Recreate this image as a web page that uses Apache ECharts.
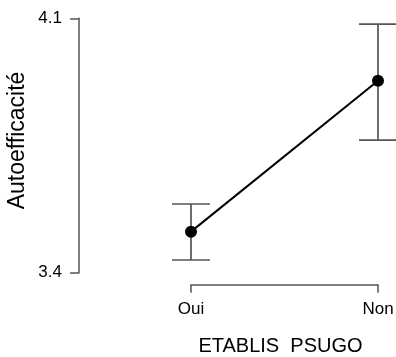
<!DOCTYPE html>
<html><head><meta charset="utf-8">
<script src="https://cdn.jsdelivr.net/npm/echarts@6/dist/echarts.min.js"></script>
<style>html,body{margin:0;padding:0;background:#fff}#c{width:396px;height:357px}</style>
</head><body><div id="c"></div>
<script>
const categories = ['Oui', 'Non'];
const means = [3.513, 3.928];
const lower = [3.435, 3.765];
const upper = [3.589, 4.084];
const yTicks = [3.4, 4.1];
const xTitle = 'ETABLIS  PSUGO';
const yTitle = 'Autoefficacité';

const chart = echarts.init(document.getElementById('c'), null, {renderer: 'canvas'});
const font = 'Liberation Sans, Arial, sans-serif';
const axisGray = '#555';
chart.setOption({
  animation: false,
  grid: {left: 191, top: 18.3, width: 187, height: 254.4, outerBoundsMode: 'none', containLabel: false},
  xAxis: {
    type: 'category', data: categories, boundaryGap: false, offset: 12,
    axisLine: {lineStyle: {color: axisGray, width: 1.5}},
    axisTick: {show: true, length: 8, lineStyle: {color: axisGray, width: 1.5}},
    axisLabel: {color: '#000', fontSize: 17, fontFamily: font, margin: 16},
    splitLine: {show: false},
    name: xTitle, nameLocation: 'middle', nameGap: 52,
    nameTextStyle: {color: '#000', fontSize: 20, fontFamily: font, padding: [0, 8, 0, 0]}
  },
  yAxis: {
    type: 'value', min: yTicks[0], max: yTicks[yTicks.length - 1], offset: 112,
    axisLine: {show: true, lineStyle: {color: axisGray, width: 1.5}},
    axisTick: {show: true, length: 9, customValues: yTicks, lineStyle: {color: axisGray, width: 1.5}},
    axisLabel: {color: '#000', fontSize: 17, fontFamily: font, margin: 17, customValues: yTicks,
      formatter: v => v.toFixed(1)},
    splitLine: {show: false},
    name: yTitle, nameLocation: 'middle', nameGap: 50, nameRotate: 90,
    nameTextStyle: {color: '#000', fontSize: 23, fontFamily: font, padding: [0, 0, 0, 10]}
  },
  series: [
    {
      type: 'custom',
      data: categories.map((c, i) => [i, lower[i], upper[i]]),
      renderItem: function (params, api) {
        const x = api.value(0);
        const lo = api.coord([x, api.value(1)]);
        const hi = api.coord([x, api.value(2)]);
        const hw = 19;
        const style = {stroke: axisGray, lineWidth: 1.7};
        return {
          type: 'group',
          children: [
            {type: 'line', shape: {x1: lo[0], y1: lo[1], x2: hi[0], y2: hi[1]}, style},
            {type: 'line', shape: {x1: lo[0] - hw, y1: lo[1], x2: lo[0] + hw, y2: lo[1]}, style},
            {type: 'line', shape: {x1: hi[0] - hw, y1: hi[1], x2: hi[0] + hw, y2: hi[1]}, style}
          ]
        };
      },
      z: 1
    },
    {
      type: 'line', data: means, symbol: 'circle', symbolSize: 12,
      lineStyle: {color: '#000', width: 2}, itemStyle: {color: '#000'}, z: 3
    }
  ]
});
</script></body></html>
